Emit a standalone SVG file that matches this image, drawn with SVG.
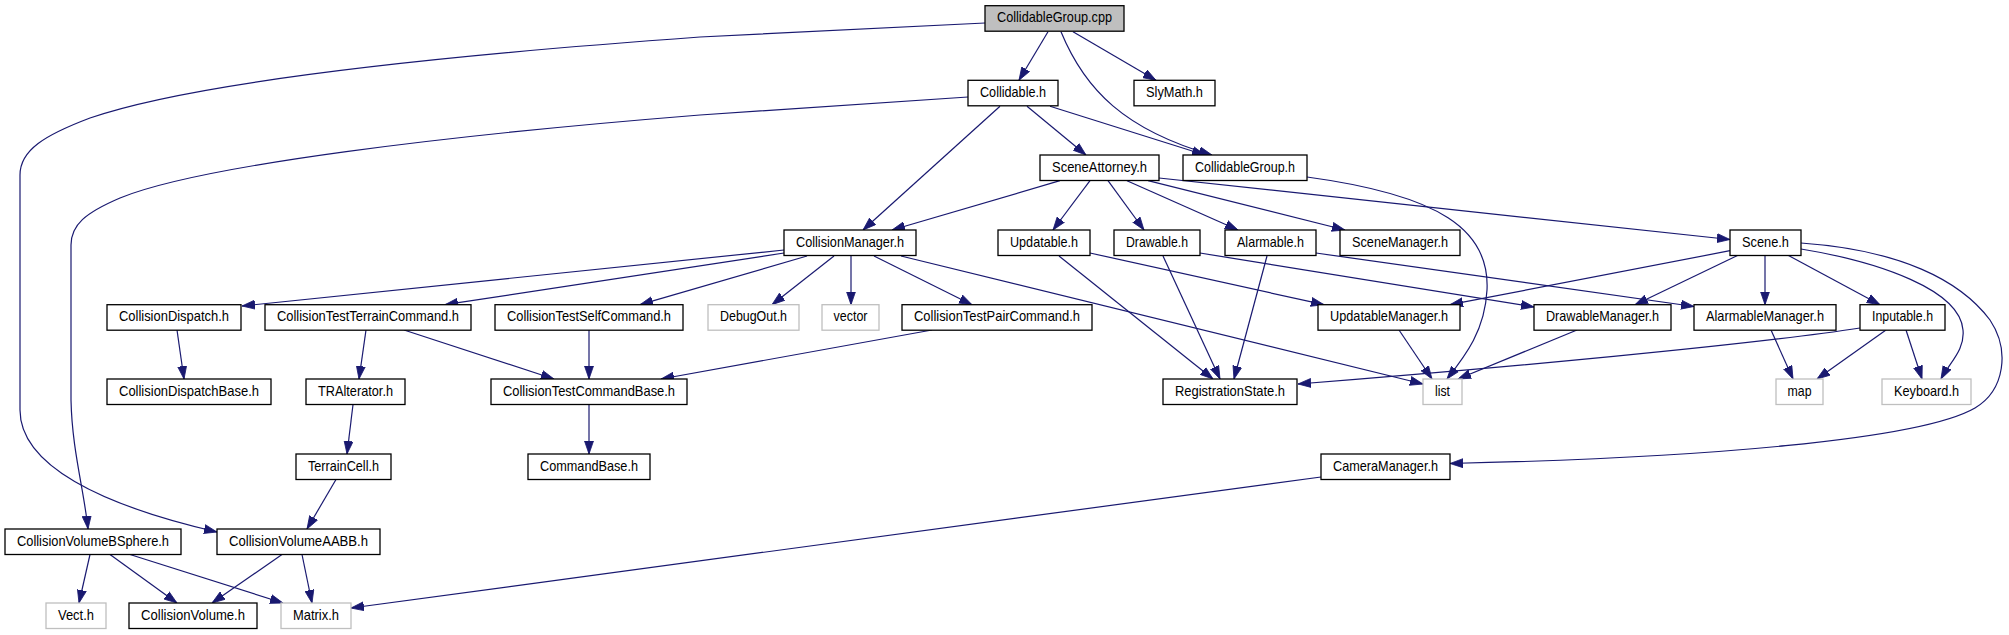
<svg xmlns="http://www.w3.org/2000/svg" width="2009" height="635" viewBox="0 0 2009 635">
<style>
.n rect{fill:#fff;stroke:#000;stroke-width:1.3}
.n.g rect{stroke:#bfbfbf}
.n.r rect{fill:#bfbfbf}
.n text{font-family:"Liberation Sans",Arial,sans-serif;font-size:14.5px;text-anchor:middle;fill:#000}
#edges path{fill:none;stroke:#191970;stroke-width:1.2;marker-end:url(#a)}
</style>
<defs>
<marker id="a" markerUnits="userSpaceOnUse" viewBox="0 0 13 10" markerWidth="13" markerHeight="10" refX="13" refY="5" orient="auto">
<path d="M0,0.5 L13,5 L0,9.5 z" fill="#191970" stroke="#191970" stroke-width="0.8"/>
</marker>
</defs>
<rect width="2009" height="635" fill="#fff"/>
<g id="edges">
<path d="M1048,31.7 L1019,80.3"/>
<path d="M1073,31.7 L1156,80.3"/>
<path d="M1061,31.7 C1085,90 1125,130 1212,155"/>
<path d="M985,23 L700,37 C450,55 200,80 90,118 C45,135 20,150 20,175 L20,410 C20,465 100,505 217,532"/>
<path d="M968,97 L700,115 C450,135 200,165 120,198 C85,213 71,225 71,245 L71,400 C72,450 84,490 88,529"/>
<path d="M1027,106.3 L1086,155"/>
<path d="M1050,106.3 L1205,155"/>
<path d="M1000,106.3 L863,230"/>
<path d="M1060,180.7 L892,230"/>
<path d="M1090,180.7 L1053,230"/>
<path d="M1108,180.7 L1144,230"/>
<path d="M1127,180.7 L1238,230"/>
<path d="M1148,180.7 L1345,230"/>
<path d="M1159,178 L1730,239.5"/>
<path d="M1307,177 C1440,195 1490,230 1487,290 C1485,330 1466,355 1447,379"/>
<path d="M784,250 L242,306"/>
<path d="M784,253 L445,304.7"/>
<path d="M807,256 L640,304.7"/>
<path d="M834,256 L772,304.7"/>
<path d="M851,256 L851,304.7"/>
<path d="M874,256 L972,304.7"/>
<path d="M901,256 L1423,384"/>
<path d="M1059,256 L1213,379"/>
<path d="M1090,253 L1324,304.7"/>
<path d="M1163,256 L1220,379"/>
<path d="M1200,253 L1534,307"/>
<path d="M1267,256 L1234,379"/>
<path d="M1316,253 L1694,306.5"/>
<path d="M1730,250.7 L1450,304.7"/>
<path d="M1738,255.3 L1635,304.7"/>
<path d="M1765,255.3 L1765,304.7"/>
<path d="M1788,255.3 L1880,304.7"/>
<path d="M1801,249 C1880,262 1960,290 1963,330 C1965,350 1950,362 1941,379"/>
<path d="M1801,243 C1900,250 1960,280 1990,320 C2010,350 2005,390 1975,408 C1920,440 1700,458 1450,463.5"/>
<path d="M1860,328 C1750,345 1500,368 1298,384"/>
<path d="M1886,330 L1817,379"/>
<path d="M1906,330 L1922,379"/>
<path d="M1771,330 L1793,379"/>
<path d="M1399,330 L1432,379"/>
<path d="M1577,330 L1458,379"/>
<path d="M177,330 L184,379"/>
<path d="M366,330 L359,379"/>
<path d="M404,330 L554,379"/>
<path d="M589,330 L589,379"/>
<path d="M932,330 L661,379"/>
<path d="M589,404.5 L589,454"/>
<path d="M353,404.5 L347,454"/>
<path d="M336,479.5 L307,529"/>
<path d="M90,554.5 L79,603"/>
<path d="M110,554.5 L177,603"/>
<path d="M130,554.5 L283,603"/>
<path d="M282,554.5 L212,603"/>
<path d="M302,554.5 L312,603"/>
<path d="M1321,477 L351,608"/>
</g>
<g id="n0" class="n r"><rect x="985" y="5.7" width="139" height="25.5"/><text x="1054.5" y="22.4" textLength="115" lengthAdjust="spacingAndGlyphs">CollidableGroup.cpp</text></g>
<g id="n1" class="n"><rect x="968" y="80.3" width="90" height="25.5"/><text x="1013" y="97" textLength="66" lengthAdjust="spacingAndGlyphs">Collidable.h</text></g>
<g id="n2" class="n"><rect x="1134" y="80.3" width="81" height="25.5"/><text x="1174.5" y="97" textLength="57" lengthAdjust="spacingAndGlyphs">SlyMath.h</text></g>
<g id="n3" class="n"><rect x="1040" y="155" width="119" height="25.5"/><text x="1099.5" y="171.7" textLength="95" lengthAdjust="spacingAndGlyphs">SceneAttorney.h</text></g>
<g id="n4" class="n"><rect x="1183" y="155" width="124" height="25.5"/><text x="1245" y="171.7" textLength="100" lengthAdjust="spacingAndGlyphs">CollidableGroup.h</text></g>
<g id="n5" class="n"><rect x="784" y="230" width="132" height="25.5"/><text x="850" y="246.7" textLength="108" lengthAdjust="spacingAndGlyphs">CollisionManager.h</text></g>
<g id="n6" class="n"><rect x="998" y="230" width="92" height="25.5"/><text x="1044" y="246.7" textLength="68" lengthAdjust="spacingAndGlyphs">Updatable.h</text></g>
<g id="n7" class="n"><rect x="1114" y="230" width="86" height="25.5"/><text x="1157" y="246.7" textLength="62" lengthAdjust="spacingAndGlyphs">Drawable.h</text></g>
<g id="n8" class="n"><rect x="1225" y="230" width="91" height="25.5"/><text x="1270.5" y="246.7" textLength="67" lengthAdjust="spacingAndGlyphs">Alarmable.h</text></g>
<g id="n9" class="n"><rect x="1340" y="230" width="120" height="25.5"/><text x="1400" y="246.7" textLength="96" lengthAdjust="spacingAndGlyphs">SceneManager.h</text></g>
<g id="n10" class="n"><rect x="1730" y="230" width="71" height="25.5"/><text x="1765.5" y="246.7" textLength="47" lengthAdjust="spacingAndGlyphs">Scene.h</text></g>
<g id="n11" class="n"><rect x="107" y="304.7" width="134" height="25.5"/><text x="174" y="321.4" textLength="110" lengthAdjust="spacingAndGlyphs">CollisionDispatch.h</text></g>
<g id="n12" class="n"><rect x="265" y="304.7" width="206" height="25.5"/><text x="368" y="321.4" textLength="182" lengthAdjust="spacingAndGlyphs">CollisionTestTerrainCommand.h</text></g>
<g id="n13" class="n"><rect x="495" y="304.7" width="188" height="25.5"/><text x="589" y="321.4" textLength="164" lengthAdjust="spacingAndGlyphs">CollisionTestSelfCommand.h</text></g>
<g id="n14" class="n g"><rect x="708" y="304.7" width="91" height="25.5"/><text x="753.5" y="321.4" textLength="67" lengthAdjust="spacingAndGlyphs">DebugOut.h</text></g>
<g id="n15" class="n g"><rect x="822" y="304.7" width="57" height="25.5"/><text x="850.5" y="321.4" textLength="34" lengthAdjust="spacingAndGlyphs">vector</text></g>
<g id="n16" class="n"><rect x="902" y="304.7" width="190" height="25.5"/><text x="997" y="321.4" textLength="166" lengthAdjust="spacingAndGlyphs">CollisionTestPairCommand.h</text></g>
<g id="n17" class="n"><rect x="1318" y="304.7" width="142" height="25.5"/><text x="1389" y="321.4" textLength="118" lengthAdjust="spacingAndGlyphs">UpdatableManager.h</text></g>
<g id="n18" class="n"><rect x="1534" y="304.7" width="137" height="25.5"/><text x="1602.5" y="321.4" textLength="113" lengthAdjust="spacingAndGlyphs">DrawableManager.h</text></g>
<g id="n19" class="n"><rect x="1694" y="304.7" width="142" height="25.5"/><text x="1765" y="321.4" textLength="118" lengthAdjust="spacingAndGlyphs">AlarmableManager.h</text></g>
<g id="n20" class="n"><rect x="1860" y="304.7" width="85" height="25.5"/><text x="1902.5" y="321.4" textLength="61" lengthAdjust="spacingAndGlyphs">Inputable.h</text></g>
<g id="n21" class="n"><rect x="107" y="379" width="164" height="25.5"/><text x="189" y="395.7" textLength="140" lengthAdjust="spacingAndGlyphs">CollisionDispatchBase.h</text></g>
<g id="n22" class="n"><rect x="306" y="379" width="99" height="25.5"/><text x="355.5" y="395.7" textLength="75" lengthAdjust="spacingAndGlyphs">TRAlterator.h</text></g>
<g id="n23" class="n"><rect x="491" y="379" width="196" height="25.5"/><text x="589" y="395.7" textLength="172" lengthAdjust="spacingAndGlyphs">CollisionTestCommandBase.h</text></g>
<g id="n24" class="n"><rect x="1163" y="379" width="134" height="25.5"/><text x="1230" y="395.7" textLength="110" lengthAdjust="spacingAndGlyphs">RegistrationState.h</text></g>
<g id="n25" class="n g"><rect x="1423" y="379" width="39" height="25.5"/><text x="1442.5" y="395.7" textLength="15" lengthAdjust="spacingAndGlyphs">list</text></g>
<g id="n26" class="n g"><rect x="1776" y="379" width="47" height="25.5"/><text x="1799.5" y="395.7" textLength="24" lengthAdjust="spacingAndGlyphs">map</text></g>
<g id="n27" class="n g"><rect x="1882" y="379" width="89" height="25.5"/><text x="1926.5" y="395.7" textLength="65" lengthAdjust="spacingAndGlyphs">Keyboard.h</text></g>
<g id="n28" class="n"><rect x="296" y="454" width="95" height="25.5"/><text x="343.5" y="470.7" textLength="71" lengthAdjust="spacingAndGlyphs">TerrainCell.h</text></g>
<g id="n29" class="n"><rect x="528" y="454" width="122" height="25.5"/><text x="589" y="470.7" textLength="98" lengthAdjust="spacingAndGlyphs">CommandBase.h</text></g>
<g id="n30" class="n"><rect x="1321" y="454" width="129" height="25.5"/><text x="1385.5" y="470.7" textLength="105" lengthAdjust="spacingAndGlyphs">CameraManager.h</text></g>
<g id="n31" class="n"><rect x="5" y="529" width="176" height="25.5"/><text x="93" y="545.7" textLength="152" lengthAdjust="spacingAndGlyphs">CollisionVolumeBSphere.h</text></g>
<g id="n32" class="n"><rect x="217" y="529" width="163" height="25.5"/><text x="298.5" y="545.7" textLength="139" lengthAdjust="spacingAndGlyphs">CollisionVolumeAABB.h</text></g>
<g id="n33" class="n g"><rect x="46" y="603" width="60" height="25.5"/><text x="76" y="619.7" textLength="36" lengthAdjust="spacingAndGlyphs">Vect.h</text></g>
<g id="n34" class="n"><rect x="129" y="603" width="128" height="25.5"/><text x="193" y="619.7" textLength="104" lengthAdjust="spacingAndGlyphs">CollisionVolume.h</text></g>
<g id="n35" class="n g"><rect x="281" y="603" width="70" height="25.5"/><text x="316" y="619.7" textLength="46" lengthAdjust="spacingAndGlyphs">Matrix.h</text></g>
</svg>
